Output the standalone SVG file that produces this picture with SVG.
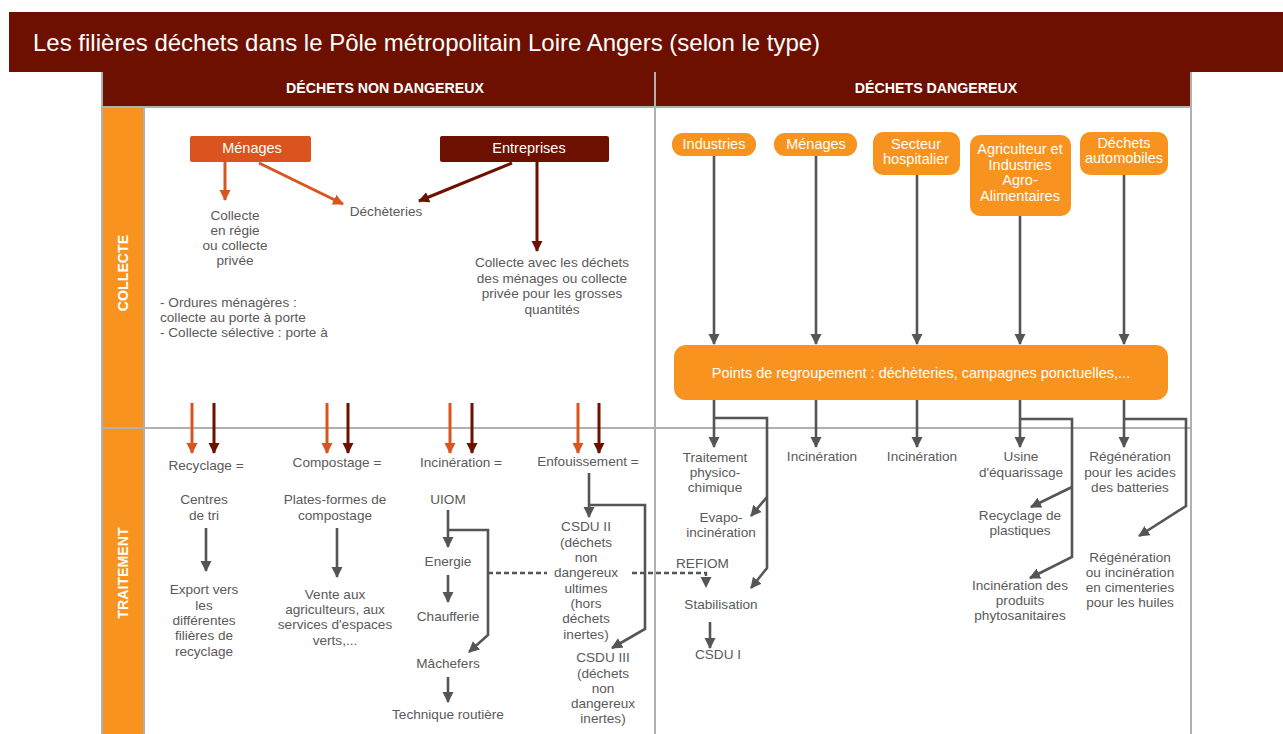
<svg xmlns="http://www.w3.org/2000/svg" width="1283" height="734" viewBox="0 0 1283 734">
<style>
text{font-family:"Liberation Sans",Arial,sans-serif;}
.t{font-size:13.6px;fill:#5a5a5a;text-anchor:middle;}
.tl{font-size:13.6px;fill:#5a5a5a;text-anchor:start;}
.w{font-size:14.5px;fill:#ffffff;text-anchor:middle;}
.h{font-size:14.2px;fill:#ffffff;font-weight:bold;text-anchor:middle;}
.grid{stroke:#b0b0b0;stroke-width:2;fill:none;}
.g{stroke:#555555;stroke-width:2.6;fill:none;}
.o{stroke:#d9541e;stroke-width:3;fill:none;}
.d{stroke:#6e1000;stroke-width:3;fill:none;}
.dash{stroke:#555555;stroke-width:2.4;fill:none;stroke-dasharray:5 3;}
.box{fill:#f7931e;}
</style>
<defs>
<marker id="ag" markerUnits="userSpaceOnUse" markerWidth="12" markerHeight="12" refX="10" refY="6" orient="auto"><path d="M0,0.5 L11,6 L0,11.5 z" fill="#555555"/></marker>
<marker id="ao" markerUnits="userSpaceOnUse" markerWidth="12" markerHeight="12" refX="10" refY="6" orient="auto"><path d="M0,0.5 L11,6 L0,11.5 z" fill="#d9541e"/></marker>
<marker id="ad" markerUnits="userSpaceOnUse" markerWidth="12" markerHeight="12" refX="10" refY="6" orient="auto"><path d="M0,0.5 L11,6 L0,11.5 z" fill="#6e1000"/></marker>
</defs>
<rect width="1283" height="734" fill="#ffffff"/>

<g id="title">
<rect x="9" y="12" width="1274" height="60" fill="#6e1000"/>
<text x="33" y="51" style="font-size:24px;fill:#ffffff;">Les filières déchets dans le Pôle métropolitain Loire Angers (selon le type)</text>
</g>

<g id="frame">
<rect x="102" y="72" width="1089" height="35" fill="#6e1000"/>
<rect x="103" y="107" width="41" height="627" fill="#f7931e"/>
<line class="grid" x1="102" y1="72" x2="102" y2="734"/>
<line class="grid" x1="144" y1="107" x2="144" y2="734"/>
<line class="grid" x1="1191" y1="72" x2="1191" y2="734"/>
<line class="grid" x1="655" y1="72" x2="655" y2="734"/>
<line class="grid" x1="102" y1="107" x2="1191" y2="107"/>
<line class="grid" x1="102" y1="428" x2="1191" y2="428"/>
<text class="h" x="385" y="93">DÉCHETS NON DANGEREUX</text>
<text class="h" x="936" y="93">DÉCHETS DANGEREUX</text>
<text class="h" transform="translate(128,273) rotate(-90)" x="0" y="0">COLLECTE</text>
<text class="h" transform="translate(128,573) rotate(-90)" x="0" y="0">TRAITEMENT</text>
</g>

<g id="connectors">
<line class="o" x1="225" y1="162" x2="225" y2="200" marker-end="url(#ao)"/>
<line class="o" x1="259" y1="163" x2="343" y2="204" marker-end="url(#ao)"/>
<line class="d" x1="512" y1="163" x2="419" y2="201" marker-end="url(#ad)"/>
<line class="d" x1="537" y1="162" x2="537" y2="251" marker-end="url(#ad)"/>
<line class="o" x1="192" y1="403" x2="192" y2="453" marker-end="url(#ao)"/>
<line class="d" x1="214" y1="403" x2="214" y2="453" marker-end="url(#ad)"/>
<line class="o" x1="327" y1="403" x2="327" y2="453" marker-end="url(#ao)"/>
<line class="d" x1="348" y1="403" x2="348" y2="453" marker-end="url(#ad)"/>
<line class="o" x1="450" y1="403" x2="450" y2="453" marker-end="url(#ao)"/>
<line class="d" x1="472" y1="403" x2="472" y2="453" marker-end="url(#ad)"/>
<line class="o" x1="578" y1="403" x2="578" y2="453" marker-end="url(#ao)"/>
<line class="d" x1="599" y1="403" x2="599" y2="453" marker-end="url(#ad)"/>
<line class="g" x1="206" y1="528" x2="206" y2="571" marker-end="url(#ag)"/>
<line class="g" x1="337" y1="528" x2="337" y2="577" marker-end="url(#ag)"/>
<line class="g" x1="448" y1="510" x2="448" y2="547" marker-end="url(#ag)"/>
<line class="g" x1="448" y1="575" x2="448" y2="602" marker-end="url(#ag)"/>
<line class="g" x1="448" y1="677" x2="448" y2="702" marker-end="url(#ag)"/>
<polyline class="g" points="448,530 488,530 488,635 469,652" marker-end="url(#ag)"/>
<line class="g" x1="589" y1="473" x2="589" y2="517" marker-end="url(#ag)"/>
<polyline class="g" points="589,505 645,505 645,629 612,648" marker-end="url(#ag)"/>
<line class="dash" x1="488" y1="573" x2="547" y2="573"/>
<polyline class="dash" points="632,573 706,573 706,587" marker-end="url(#ag)"/>
<line class="g" x1="714" y1="156" x2="714" y2="344" marker-end="url(#ag)"/>
<line class="g" x1="816" y1="156" x2="816" y2="344" marker-end="url(#ag)"/>
<line class="g" x1="917" y1="175" x2="917" y2="344" marker-end="url(#ag)"/>
<line class="g" x1="1020" y1="216" x2="1020" y2="344" marker-end="url(#ag)"/>
<line class="g" x1="1124" y1="175" x2="1124" y2="344" marker-end="url(#ag)"/>
<line class="g" x1="714" y1="400" x2="714" y2="447" marker-end="url(#ag)"/>
<polyline class="g" points="714,418 767,418 767,568 751,588" marker-end="url(#ag)"/>
<line class="g" x1="767" y1="497" x2="751" y2="516" marker-end="url(#ag)"/>
<line class="g" x1="816" y1="400" x2="816" y2="447" marker-end="url(#ag)"/>
<line class="g" x1="917" y1="400" x2="917" y2="447" marker-end="url(#ag)"/>
<line class="g" x1="1020" y1="400" x2="1020" y2="447" marker-end="url(#ag)"/>
<polyline class="g" points="1020,419 1072,419 1072,557 1030,578" marker-end="url(#ag)"/>
<line class="g" x1="1072" y1="487" x2="1031" y2="507" marker-end="url(#ag)"/>
<line class="g" x1="1124" y1="400" x2="1124" y2="447" marker-end="url(#ag)"/>
<polyline class="g" points="1124,419 1186,419 1186,506 1139,536" marker-end="url(#ag)"/>
<line class="g" x1="710" y1="622" x2="710" y2="648" marker-end="url(#ag)"/>
</g>

<g id="n-menages-nd"><rect x="190" y="136" width="121" height="26" rx="2" fill="#d9541e"/><text class="w" x="252" y="153">Ménages</text></g>
<g id="n-entreprises"><rect x="440" y="136" width="169" height="26" rx="2" fill="#6e1000"/><text class="w" x="529" y="153">Entreprises</text></g>
<g id="n-decheteries"><text class="t" x="386" y="216">Déchèteries</text></g>
<g id="n-collecte-regie"><text class="t" x="235" y="220">Collecte</text><text class="t" x="235" y="235">en régie</text><text class="t" x="235" y="250">ou collecte</text><text class="t" x="235" y="265">privée</text></g>
<g id="n-ordures"><text class="tl" x="160" y="307">- Ordures ménagères :</text><text class="tl" x="160" y="322">collecte au porte à porte</text><text class="tl" x="160" y="337">- Collecte sélective : porte à</text></g>
<g id="n-collecte-avec"><text class="t" x="552" y="267">Collecte avec les déchets</text><text class="t" x="552" y="283">des ménages ou collecte</text><text class="t" x="552" y="298">privée pour les grosses</text><text class="t" x="552" y="314">quantités</text></g>

<g id="n-recyclage"><text class="t" x="206" y="470">Recyclage =</text></g>
<g id="n-centres"><text class="t" x="204" y="504">Centres</text><text class="t" x="204" y="520">de tri</text></g>
<g id="n-export"><text class="t" x="204" y="594">Export vers</text><text class="t" x="204" y="610">les</text><text class="t" x="204" y="625">différentes</text><text class="t" x="204" y="640">filières de</text><text class="t" x="204" y="656">recyclage</text></g>
<g id="n-compostage"><text class="t" x="337" y="467">Compostage =</text></g>
<g id="n-plates"><text class="t" x="335" y="504">Plates-formes de</text><text class="t" x="335" y="520">compostage</text></g>
<g id="n-vente"><text class="t" x="335" y="599">Vente aux</text><text class="t" x="335" y="614">agriculteurs, aux</text><text class="t" x="335" y="629">services d'espaces</text><text class="t" x="335" y="645">verts,...</text></g>
<g id="n-incineration-nd"><text class="t" x="461" y="467">Incinération =</text></g>
<g id="n-uiom"><text class="t" x="448" y="504">UIOM</text></g>
<g id="n-energie"><text class="t" x="448" y="566">Energie</text></g>
<g id="n-chaufferie"><text class="t" x="448" y="621">Chaufferie</text></g>
<g id="n-machefers"><text class="t" x="448" y="668">Mâchefers</text></g>
<g id="n-technique"><text class="t" x="448" y="719">Technique routière</text></g>
<g id="n-enfouissement"><text class="t" x="588" y="466">Enfouissement =</text></g>
<g id="n-csdu2"><text class="t" x="586" y="531">CSDU II</text><text class="t" x="586" y="547">(déchets</text><text class="t" x="586" y="562">non</text><text class="t" x="586" y="577">dangereux</text><text class="t" x="586" y="593">ultimes</text><text class="t" x="586" y="608">(hors</text><text class="t" x="586" y="623">déchets</text><text class="t" x="586" y="639">inertes)</text></g>
<g id="n-csdu3"><text class="t" x="603" y="662">CSDU III</text><text class="t" x="603" y="678">(déchets</text><text class="t" x="603" y="693">non</text><text class="t" x="603" y="708">dangereux</text><text class="t" x="603" y="723">inertes)</text></g>

<g id="n-industries"><rect class="box" x="672" y="133" width="84" height="23" rx="11"/><text class="w" x="714" y="149">Industries</text></g>
<g id="n-menages-d"><rect class="box" x="774" y="133" width="83" height="23" rx="11"/><text class="w" x="816" y="149">Ménages</text></g>
<g id="n-secteur"><rect class="box" x="873" y="132" width="87" height="43" rx="10"/><text class="w" x="916" y="149">Secteur</text><text class="w" x="916" y="164">hospitalier</text></g>
<g id="n-agriculteur"><rect class="box" x="970" y="135" width="101" height="81" rx="10"/><text class="w" x="1020" y="154">Agriculteur et</text><text class="w" x="1020" y="170">Industries</text><text class="w" x="1020" y="185">Agro-</text><text class="w" x="1020" y="201">Alimentaires</text></g>
<g id="n-automobiles"><rect class="box" x="1080" y="132" width="88" height="43" rx="10"/><text class="w" x="1124" y="148">Déchets</text><text class="w" x="1124" y="163">automobiles</text></g>
<g id="n-points"><rect class="box" x="674" y="345" width="494" height="55" rx="12"/><text class="w" x="921" y="378">Points de regroupement : déchèteries, campagnes ponctuelles,...</text></g>

<g id="n-traitement-pc"><text class="t" x="715" y="462">Traitement</text><text class="t" x="715" y="477">physico-</text><text class="t" x="715" y="492">chimique</text></g>
<g id="n-evapo"><text class="t" x="721" y="522">Evapo-</text><text class="t" x="721" y="537">incinération</text></g>
<g id="n-refiom"><text class="tl" x="676" y="568">REFIOM</text></g>
<g id="n-stabilisation"><text class="t" x="721" y="609">Stabilisation</text></g>
<g id="n-csdu1"><text class="t" x="718" y="659">CSDU I</text></g>
<g id="n-incin-1"><text class="t" x="822" y="461">Incinération</text></g>
<g id="n-incin-2"><text class="t" x="922" y="461">Incinération</text></g>
<g id="n-usine"><text class="t" x="1021" y="461">Usine</text><text class="t" x="1021" y="477">d'équarissage</text></g>
<g id="n-recyclage-plast"><text class="t" x="1020" y="520">Recyclage de</text><text class="t" x="1020" y="535">plastiques</text></g>
<g id="n-incin-phyto"><text class="t" x="1020" y="590">Incinération des</text><text class="t" x="1020" y="605">produits</text><text class="t" x="1020" y="620">phytosanitaires</text></g>
<g id="n-regen-acides"><text class="t" x="1130" y="461">Régénération</text><text class="t" x="1130" y="477">pour les acides</text><text class="t" x="1130" y="492">des batteries</text></g>
<g id="n-regen-huiles"><text class="t" x="1130" y="562">Régénération</text><text class="t" x="1130" y="577">ou incinération</text><text class="t" x="1130" y="592">en cimenteries</text><text class="t" x="1130" y="607">pour les huiles</text></g>
</svg>
